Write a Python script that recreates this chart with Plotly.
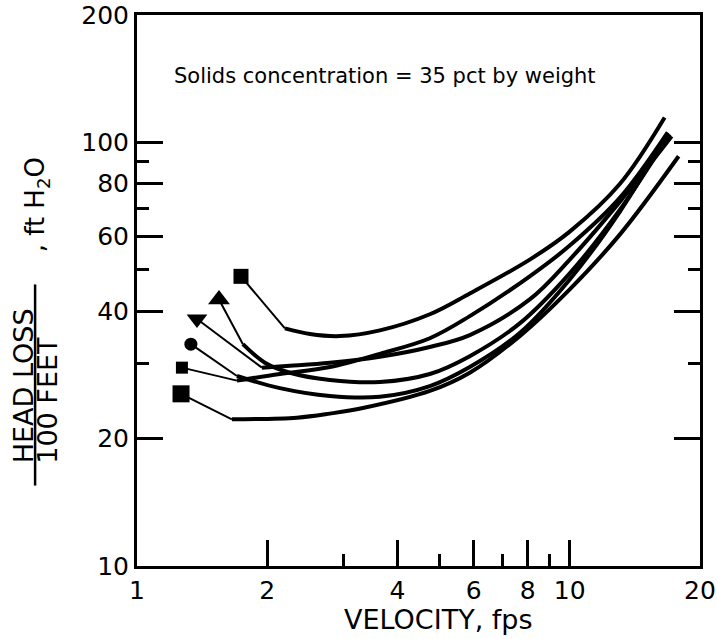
import math
import plotly.graph_objects as go

# ---------------- data ----------------
marker_velocity = [1.739, 1.547, 1.376, 1.332, 1.270, 1.264]
marker_headloss = [48.3, 42.6, 38.3, 33.4, 29.4, 25.5]

curve1_v = [2.197, 2.509, 2.943, 3.641, 4.750, 5.875, 8.083, 10.0, 13.05, 16.57]
curve1_h = [36.4, 35.3, 34.9, 36.0, 39.3, 44.0, 52.9, 61.6, 79.8, 114.6]

curve2_v = [1.757, 1.975, 2.256, 2.791, 3.641, 4.750, 5.875, 7.664, 10.0, 13.05, 17.02]
curve2_h = [33.4, 30.2, 28.6, 27.5, 27.2, 28.4, 31.3, 37.4, 49.1, 69.3, 104.6]

curve3_v = [1.944, 2.256, 2.791, 3.641, 4.750, 5.875, 8.083, 10.0, 13.05, 17.20]
curve3_h = [29.4, 29.7, 30.2, 31.2, 32.9, 35.1, 42.6, 52.9, 72.4, 103.4]

curve4_v = [1.702, 2.139, 2.791, 3.641, 4.750, 5.875, 7.664, 10.0, 13.05, 16.84]
curve4_h = [28.1, 26.3, 25.2, 25.1, 26.6, 29.5, 35.5, 47.5, 68.6, 105.1]

curve5_v = [1.702, 2.139, 2.791, 3.641, 4.750, 5.875, 8.083, 10.0, 13.05, 16.84]
curve5_h = [27.4, 28.4, 29.5, 31.7, 34.5, 38.9, 48.3, 57.1, 74.0, 105.7]

curve6_v = [1.657, 2.342, 2.791, 3.326, 4.750, 5.875, 7.664, 10.0, 13.05, 17.85]
curve6_h = [22.2, 22.4, 22.9, 23.6, 25.9, 28.6, 34.9, 45.0, 60.6, 92.8]

x_tick_values = [1, 2, 4, 6, 8, 10, 20]
x_tick_labels = ["1", "2", "4", "6", "8", "10", "20"]
x_minor_values = [3, 5, 7, 9]
y_tick_values = [10, 20, 40, 60, 80, 100, 200]
y_tick_labels = ["10", "20", "40", "60", "80", "100", "200"]
y_minor_values = [30, 50, 70, 90]

annotation_text = "Solids concentration = 35 pct by weight"
x_title = "VELOCITY, fps"

# ---------------- styles ----------------
curves = [(curve1_v, curve1_h), (curve2_v, curve2_h), (curve3_v, curve3_h),
          (curve4_v, curve4_h), (curve5_v, curve5_h), (curve6_v, curve6_h)]
marker_styles = [("square", 15), ("triangle-up", 19), ("triangle-down", 18),
                 ("circle", 13), ("square", 12), ("square", 17)]

FONT = "DejaVu Sans"
fig = go.Figure()

for i, (cv, ch) in enumerate(curves):
    # straight connector from symbol to start of curve
    fig.add_trace(go.Scatter(
        x=[marker_velocity[i], cv[0]], y=[marker_headloss[i], ch[0]],
        mode="lines", line=dict(color="black", width=2), showlegend=False,
        hoverinfo="skip"))
    # smooth curve
    fig.add_trace(go.Scatter(
        x=cv, y=ch, mode="lines",
        line=dict(color="black", width=4, shape="spline", smoothing=1.0),
        showlegend=False))
    sym, size = marker_styles[i]
    fig.add_trace(go.Scatter(
        x=[marker_velocity[i]], y=[marker_headloss[i]], mode="markers",
        marker=dict(symbol=sym, size=size, color="black"),
        showlegend=False))

axis_common = dict(
    type="log", ticks="inside", ticklen=26, tickwidth=2.5, tickcolor="black",
    showline=True, linewidth=3, linecolor="black", showgrid=False,
    zeroline=False, automargin=False, ticklabeloverflow="allow",
    tickfont=dict(family=FONT, size=25, color="black"),
)

fig.update_layout(
    width=717, height=639,
    margin=dict(l=137, r=17, t=15, b=73),
    paper_bgcolor="white", plot_bgcolor="white",
    xaxis=dict(range=[0, math.log10(20)], tickmode="array",
               tickvals=x_tick_values, ticktext=x_tick_labels, mirror=True,
               minor=dict(tickmode="array", tickvals=x_minor_values, ticks="inside",
                          ticklen=12, tickwidth=2.5, tickcolor="black", showgrid=False),
               **axis_common),
    yaxis=dict(range=[1, math.log10(200)], tickmode="array",
               tickvals=y_tick_values, ticktext=y_tick_labels, mirror="ticks",
               minor=dict(tickmode="array", tickvals=y_minor_values, ticks="inside",
                          ticklen=12, tickwidth=2.5, tickcolor="black", showgrid=False),
               **axis_common),
    font=dict(family=FONT, color="black"),
)

# annotation inside plot
fig.add_annotation(text=annotation_text, xref="paper", yref="paper",
                   x=0.062, y=0.89, xanchor="left", yanchor="middle",
                   showarrow=False, font=dict(family=FONT, size=21, color="black"))

# x axis title
fig.add_annotation(text=x_title, xref="paper", yref="paper",
                   x=0.535, y=-0.097, xanchor="center", yanchor="middle",
                   showarrow=False, font=dict(family=FONT, size=27, color="black"))

# y axis title as a fraction
fig.add_annotation(text="HEAD LOSS", xref="paper", yref="paper",
                   x=-0.2025, y=0.328, xanchor="center", yanchor="middle",
                   textangle=-90, showarrow=False,
                   font=dict(family=FONT, size=27, color="black"))
fig.add_annotation(text="100 FEET", xref="paper", yref="paper",
                   x=-0.158, y=0.30, xanchor="center", yanchor="middle",
                   textangle=-90, showarrow=False,
                   font=dict(family=FONT, size=27, color="black"))
fig.add_annotation(text=", ft H<sub>2</sub>O", xref="paper", yref="paper",
                   x=-0.179, y=0.655, xanchor="center", yanchor="middle",
                   textangle=-90, showarrow=False,
                   font=dict(family=FONT, size=26, color="black"))
fig.add_shape(type="line", xref="paper", yref="paper",
              x0=-0.181, x1=-0.181, y0=0.146, y1=0.511,
              line=dict(color="black", width=2.5))

fig.write_html("out.html",
               config={"displayModeBar": False},
               post_script="document.body.style.margin='0px';"
                           "document.body.style.overflow='hidden';")
